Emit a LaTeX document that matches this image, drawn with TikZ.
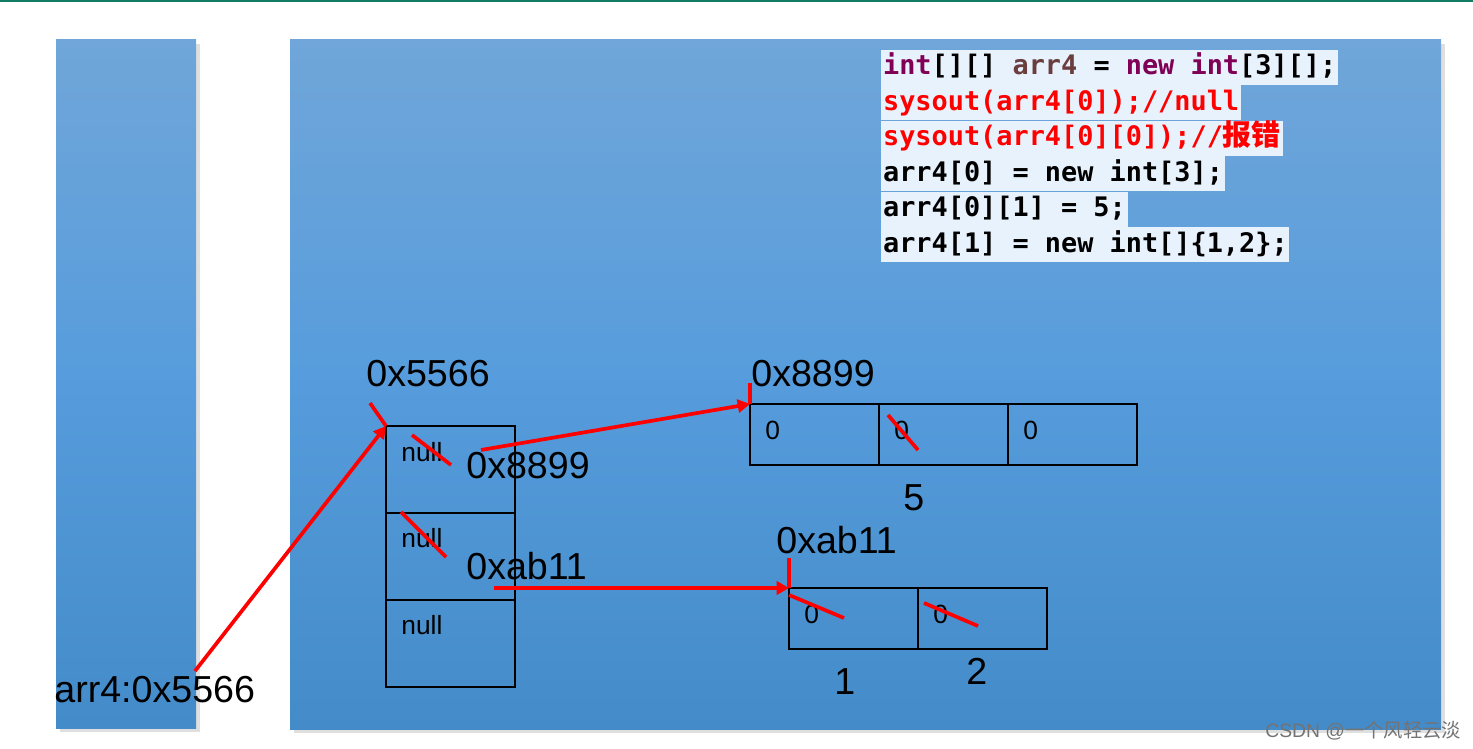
\documentclass[tikz,border=0pt]{standalone}
\usepackage{fontspec}
\setmainfont{Liberation Sans}
\newfontfamily\codefont{DejaVu Sans Mono}
\newfontfamily\cjk{Noto Sans CJK SC}
\usepackage{xcolor}
\usetikzlibrary{arrows.meta,calc,shadows}

\definecolor{panTop}{RGB}{112,166,217}
\definecolor{panMid}{RGB}{86,156,220}
\definecolor{panBot}{RGB}{68,139,201}
\definecolor{codebg}{RGB}{232,242,252}
\definecolor{kw}{RGB}{127,0,85}
\definecolor{var}{RGB}{106,62,62}
\definecolor{topline}{RGB}{18,124,100}

\tikzset{
  panel/.style={top color=panTop, bottom color=panBot, middle color=panMid,
    drop shadow={opacity=0.25, shadow xshift=2pt, shadow yshift=-2pt}},
  cell/.style={draw=black, line width=1.1pt, inner sep=0pt, outer sep=0pt,
    anchor=north west, minimum width=2.58cm},
  tall/.style={cell, minimum height=1.74cm},
  flat/.style={cell, minimum height=1.22cm},
  big/.style={inner sep=0pt, anchor=base west, font=\fontsize{21.4}{25}\selectfont},
  small/.style={inner sep=0pt, anchor=base west, font=\fontsize{15}{18}\selectfont},
  codeline/.style={anchor=base west, fill=codebg, inner xsep=1pt, inner ysep=0pt,
    text height=14.5pt, text depth=5.6pt,
    font=\codefont\bfseries\fontsize{15.3}{18}\selectfont},
  redline/.style={red, line width=2.1pt},
  redarrow/.style={redline, -{Triangle[length=7pt,width=7.5pt]}}
}

\begin{document}
\begin{tikzpicture}[x=0.02cm, y=-0.02cm]
\useasboundingbox (0,0) rectangle (1473,749);
\draw [topline, line width=1.2pt] (0,1) -- (1473,1);

% stack and heap
\fill [panel] (56,40) rectangle (196,728);
\fill [panel] (290,40) rectangle (1441,729);

% code
\node [codeline] (code1) at (881,75) {\textcolor{kw}{int}[][] \textcolor{var}{arr4} = \textcolor{kw}{new} \textcolor{kw}{int}[3][];};
\node [codeline, text=red] (code2) at (881,110.5) {sysout(arr4[0]);//null};
\node [codeline, text=red] (code3) at (881,146) {sysout(arr4[0][0]);//{\cjk\bfseries\fontsize{16.5}{18}\selectfont 报错}};
\node [codeline] (code4) at (881,181.5) {arr4[0] = new int[3];};
\node [codeline] (code5) at (881,217) {arr4[0][1] = 5;};
\node [codeline] (code6) at (881,252.5) {arr4[1] = new int[]\{1,2\};};

% outer array
\node [tall] (a0) at (386,426) {};
\node [tall] (a1) at (a0.south west) {};
\node [tall] (a2) at (a1.south west) {};
\foreach \c in {a0,a1,a2}
  \node [small] at ($(\c.north west)+(15,35)$) {null};

% arr4[0]
\node [flat] (b0) at (750,404) {};
\node [flat] (b1) at (b0.north east) {};
\node [flat] (b2) at (b1.north east) {};
\foreach \c in {b0,b1,b2}
  \node [small] at ($(\c.north west)+(15,35)$) {0};

% arr4[1]
\node [flat] (c0) at (789,588) {};
\node [flat] (c1) at (c0.north east) {};
\foreach \c in {c0,c1}
  \node [small] at ($(\c.north west)+(15,35)$) {0};

% addresses
\node [big] (arr4) at (54,702) {arr4:0x5566};
\node [big] (adrA) at (366,387) {0x5566};
\node [big] (ptrB) at (466,479) {0x8899};
\node [big] (ptrC) at (466,579) {0xab11};
\node [big] (adrB) at (751,387) {0x8899};
\node [big] (adrC) at (776,553) {0xab11};
\node [big] (five) at (903,510) {5};
\node [big] (one) at (834,694) {1};
\node [big] (two) at (966,684) {2};

% references
\coordinate (fromA) at (195,671);
\coordinate (fromB) at (481,450);
\coordinate (fromC) at (494,588);
\draw [redarrow] (fromA) -- (a0.north west);
\draw [redline] (370,403) -- (a0.north west);
\draw [redarrow] (fromB) -- (b0.north west);
\draw [redline] (b0.north west) -- ++(0,-21);
\draw [redarrow] (fromC) -- (c0.north west);
\draw [redline] (c0.north west) -- ++(0,-30);

% overwritten values
\draw [redline] (412,435) -- (451,465);
\draw [redline] (401,512) -- (446,557);
\draw [redline] (888,415) -- (918,450);
\draw [redline] (789,595) -- (844,618);
\draw [redline] (924,603) -- (978,626);

\node [anchor=base west, inner sep=0pt, text=black!55, font=\fontsize{11}{13}\selectfont] (mark) at (1265,737) {CSDN @{\cjk 一个风轻云淡}};
\end{tikzpicture}
\end{document}
